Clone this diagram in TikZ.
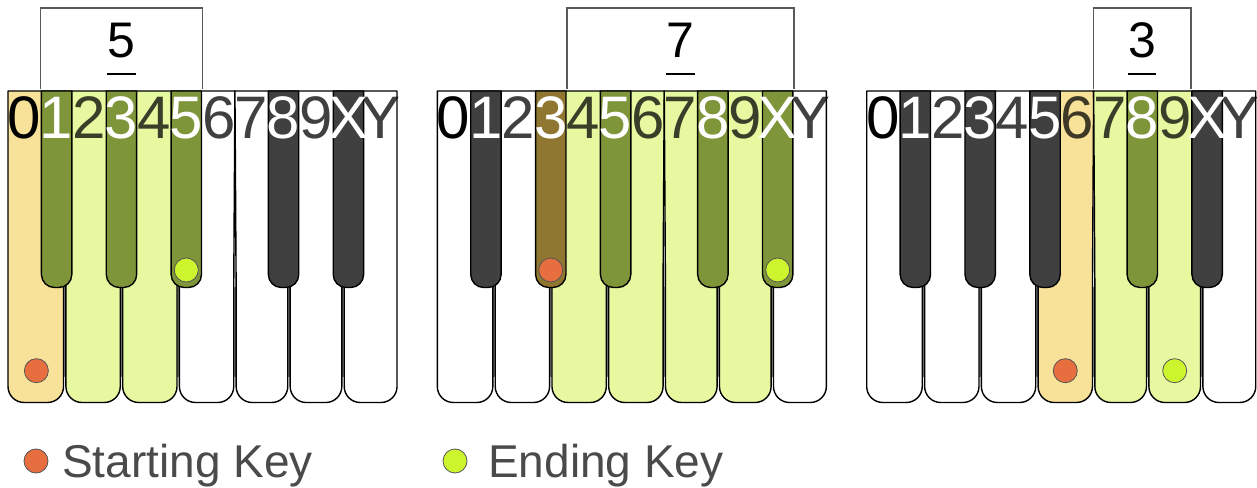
\documentclass[tikz,border=0pt]{standalone}
\usepackage{fontspec}
\setmainfont{Liberation Sans}

% key fills
\definecolor{wW}{HTML}{FFFFFF}
\definecolor{wS}{HTML}{F8E199}
\definecolor{wR}{HTML}{E6F9A1}
\definecolor{bB}{HTML}{404040}
\definecolor{bS}{HTML}{8F7731}
\definecolor{bR}{HTML}{7E9539}
% other colours
\definecolor{gapgray}{HTML}{808080}
\definecolor{startdot}{HTML}{E76F3F}
\definecolor{enddot}{HTML}{CDF52E}
\definecolor{dotline}{HTML}{555555}
\definecolor{brk}{HTML}{5A5A5A}
\definecolor{legtext}{HTML}{4A4A4A}

% geometry (1 unit = 1pt)
\newcommand\colw{32.42}
\newcommand\ytop{396}
\newcommand\ybk{199.5}
\newcommand\ywk{84.5}
\newcommand\rw{16}
\newcommand\rb{13}
\newcommand\bw{30.4}
% white keys: semitone / left / right / left inset / right inset
\newcommand\whitelist{0/0/56.735/0/1.2, 2/56.735/113.47/1.2/1.2, 4/113.47/170.205/1.2/1.2, 6/170.205/226.94/1.2/1.2, 7/226.94/280.97/1.2/1.2, 9/280.97/335.0/1.2/1.2, 11/335.0/389.04/1.2/0}

\tikzset{
  keyline/.style={draw=black, line width=1.4pt, line join=round},
  digit/.style={font=\fontsize{60}{60}\selectfont, inner sep=0pt, anchor=base},
  countnum/.style={font=\fontsize{50}{50}\selectfont, inner sep=0pt, anchor=base},
  bracketline/.style={draw=brk, line width=1.3pt},
  dotstyle/.style={circle, draw=dotline, line width=0.8pt, minimum size=24pt, inner sep=0pt},
  startkey/.style={dotstyle, fill=startdot},
  endkey/.style={dotstyle, fill=enddot},
  legend/.style={font=\fontsize{46}{46}\selectfont, text=legtext, inner sep=0pt, anchor=base west},
}

% #1 name, #2 left x, #3 key colours, #4 first counted column, #5 last counted column,
% #6 count, #7 start-dot position, #8 end-dot position
\newcommand\keyboard[8]{%
  \begin{scope}[shift={(#2,0)}]
    \fill[gapgray] (0,110) rectangle (389.04,\ybk);
    \foreach \s/\xa/\xb/\gl/\gr in \whitelist {
      \pgfmathparse{#3[\s]}\edef\kc{\pgfmathresult}
      \draw[keyline, fill=\kc] (\xa,\ytop) -- (\xb,\ytop) -- ({\xb-\gr},\ybk)
        -- ({\xb-\gr},{\ywk+\rw}) arc[start angle=0, end angle=-90, radius=\rw]
        -- ({\xa+\gl+\rw},\ywk) arc[start angle=-90, end angle=-180, radius=\rw]
        -- ({\xa+\gl},\ybk) -- cycle;
    }
    \foreach \s in {1,3,5,8,10} {
      \pgfmathparse{#3[\s]}\edef\kc{\pgfmathresult}
      \pgfmathsetmacro\kl{(\s+0.5)*\colw-\bw/2}
      \pgfmathsetmacro\kr{(\s+0.5)*\colw+\bw/2}
      \draw[keyline, fill=\kc] (\kl,\ytop) -- (\kr,\ytop)
        -- (\kr,{\ybk+\rb}) arc[start angle=0, end angle=-90, radius=\rb]
        -- ({\kl+\rb},\ybk) arc[start angle=-90, end angle=-180, radius=\rb] -- cycle;
    }
    % semitone numbers
    \node[digit] (#1-d0) at ({0.5*\colw},348.5) {0};
    \foreach \s/\lab in {2/2,4/4,6/6,7/7,9/9,11/Y}
      \node[digit, text=black, text opacity=.75] (#1-d\s) at ({(\s+0.5)*\colw},348.5) {\lab};
    \foreach \s/\lab in {1/1,3/3,5/5,8/8,10/X}
      \node[digit, text=white] (#1-d\s) at ({(\s+0.5)*\colw},348.5) {\lab};
    % interval bracket
    \coordinate (#1-bl) at ({#4*\colw},398);
    \coordinate (#1-br) at ({(#5+1)*\colw},398);
    \draw[bracketline] (#1-bl) |- ([yshift=81pt]#1-br) -- (#1-br);
    \node[countnum] (#1-n) at ({(#4+#5+1)*\colw/2},429.5) {#6};
    \draw[line width=2.3pt] ([yshift=-16.5pt]#1-n.base west) -- ([yshift=-16.5pt]#1-n.base east);
    % start and end markers
    \node[startkey] (#1-start) at #7 {};
    \node[endkey] (#1-end) at #8 {};
  \end{scope}}

\begin{document}
\begin{tikzpicture}[x=1pt, y=1pt]
  \useasboundingbox (0,0) rectangle (1257,487);

  \keyboard{kbA}{8}{{"wS","bR","wR","bR","wR","bR","wW","wW","bB","wW","bB","wW"}}{1}{5}{5}{(28.37,116.3)}{(178.31,217)}
  \keyboard{kbB}{437.3}{{"wW","bB","wW","bS","wR","bR","wR","wR","bR","wR","bR","wW"}}{4}{10}{7}{(113.47,217)}{(340.41,217)}
  \keyboard{kbC}{866.7}{{"wW","bB","wW","bB","wW","bB","wS","wR","bR","wR","bB","wW"}}{7}{9}{3}{(198.57,116.3)}{(307.98,116.3)}

  % legend
  \node[startkey] (legstart) at (36,26) {};
  \node[legend] (legstarttext) at (62,10) {Starting Key};
  \node[endkey] (legend) at (455,26) {};
  \node[legend] (legendtext) at (488,10) {Ending Key};
\end{tikzpicture}
\end{document}
